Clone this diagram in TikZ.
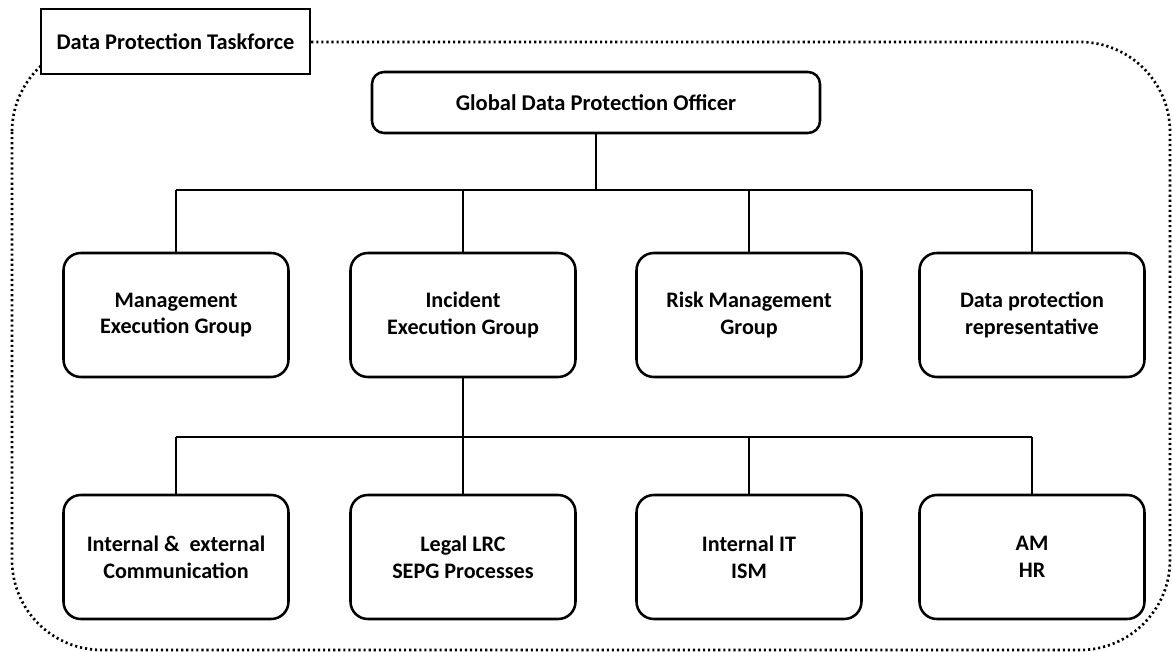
\documentclass[tikz,border=0pt]{standalone}
\usepackage{fontspec}
\setmainfont{Carlito}
\begin{document}
\begin{tikzpicture}[x=0.75pt,y=-0.75pt,
  box/.style={draw=black, line width=1.9pt, rounded corners=13pt, fill=white,
    minimum width=168.75pt, minimum height=93pt, align=center,
    font=\bfseries\fontsize{16.6}{20}\selectfont, inner sep=2pt},
  topbox/.style={draw=black, line width=1.9pt, rounded corners=9pt, fill=white,
    minimum width=336pt, minimum height=45.75pt, align=center,
    font=\bfseries\fontsize{16.9}{20}\selectfont},
  titlebox/.style={draw=black, line width=1.9pt, fill=white,
    minimum width=201.75pt, minimum height=48.75pt, align=center,
    font=\bfseries\fontsize{16.8}{20}\selectfont},
  conn/.style={draw=black, line width=1.6pt},
  frame/.style={draw=black, line width=2pt, dash pattern=on 1.6pt off 2.2pt, rounded corners=67.5pt}
]
\useasboundingbox (0,0) rectangle (1172,652);

% dotted frame
\draw[frame] (12,42) rectangle (1170,650);

% title
\node[titlebox] (title) at (175.5,41.5) {Data Protection Taskforce};

% top node
\node[topbox] (gdpo) at (596,102.5) {Global Data Protection Officer};

% row 1
\node[box] (meg) at (176,315) {Management\\Execution Group};
\node[box] (ieg) at (463,315) {Incident\\Execution Group};
\node[box] (rmg) at (749,315) {Risk Management\\Group};
\node[box] (dpr) at (1032,315) {Data protection\\representative};

% row 2
\node[box] (iec) at (176,557) {Internal \&\ \ external\\Communication};
\node[box] (legal) at (463,557) {Legal LRC\\SEPG Processes};
\node[box] (iit) at (749,557) {Internal IT\\ISM};
\node[box] (amhr) at (1032,557) {AM\\HR};

% buses
\coordinate (busAL) at (176,190);
\coordinate (busAR) at (1032,190);
\coordinate (busBL) at (176,437);
\coordinate (busBR) at (1032,437);

\draw[conn] (busAL) -- (busAR);
\draw[conn] (gdpo.south) -- (gdpo.south |- busAL);
\foreach \n in {meg,ieg,rmg,dpr}
  \draw[conn] (\n.north) -- (\n.north |- busAL);

\draw[conn] (busBL) -- (busBR);
\draw[conn] (ieg.south) -- (ieg.south |- busBL);
\foreach \n in {iec,legal,iit,amhr}
  \draw[conn] (\n.north) -- (\n.north |- busBL);
\end{tikzpicture}
\end{document}
